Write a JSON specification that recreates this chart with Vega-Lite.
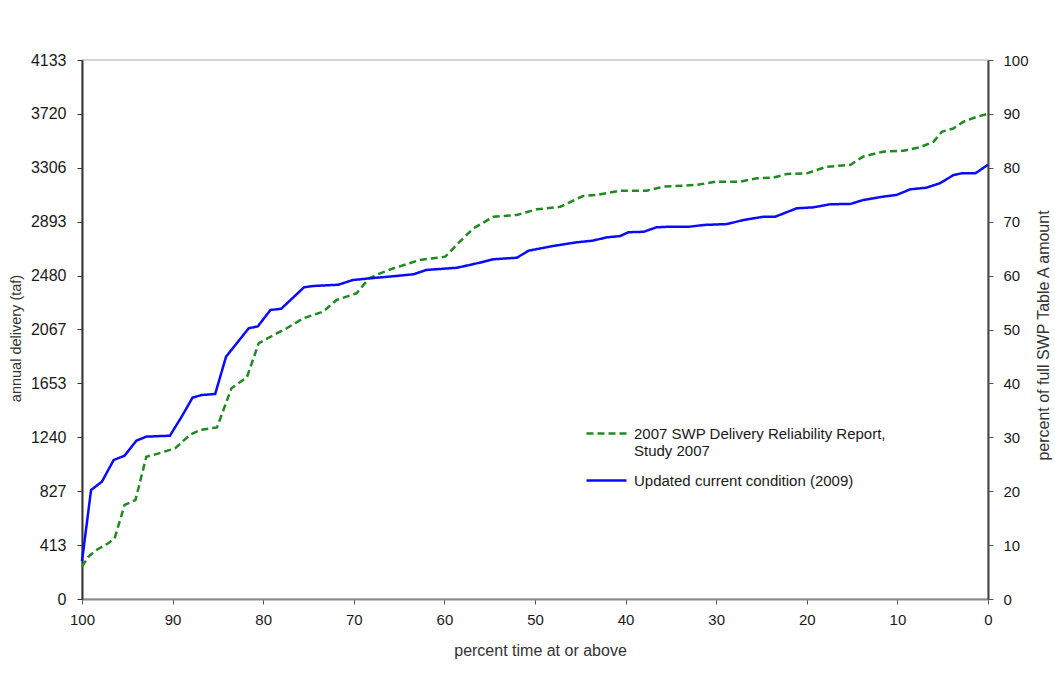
{
  "$schema": "https://vega.github.io/schema/vega-lite/v6.json",
  "width": 906,
  "height": 539,
  "autosize": {"type": "none"},
  "padding": {"left": 82, "top": 60, "right": 67, "bottom": 94},
  "background": "white",
  "config": {
    "view": {"stroke": "#c8c8c8", "strokeWidth": 1.5},
    "font": "Liberation Sans",
    "axis": {
      "grid": false,
      "labelFont": "Liberation Sans",
      "titleFont": "Liberation Sans",
      "labelColor": "#1a1a1a",
      "titleColor": "#333333",
      "titleFontWeight": "normal",
      "labelFontSize": 15,
      "titleFontSize": 15,
      "labelFlush": false,
      "labelOverlap": false
    }
  },
  "datasets": {
    "curves": [
      {"series": "2007 SWP Delivery Reliability Report, Study 2007", "pct": 100, "value": 248},
      {"series": "2007 SWP Delivery Reliability Report, Study 2007", "pct": 99.3, "value": 324},
      {"series": "2007 SWP Delivery Reliability Report, Study 2007", "pct": 98.4, "value": 376},
      {"series": "2007 SWP Delivery Reliability Report, Study 2007", "pct": 97.1, "value": 427},
      {"series": "2007 SWP Delivery Reliability Report, Study 2007", "pct": 96.4, "value": 465},
      {"series": "2007 SWP Delivery Reliability Report, Study 2007", "pct": 95.3, "value": 721},
      {"series": "2007 SWP Delivery Reliability Report, Study 2007", "pct": 94.1, "value": 759},
      {"series": "2007 SWP Delivery Reliability Report, Study 2007", "pct": 92.9, "value": 1091},
      {"series": "2007 SWP Delivery Reliability Report, Study 2007", "pct": 91.9, "value": 1109},
      {"series": "2007 SWP Delivery Reliability Report, Study 2007", "pct": 89.7, "value": 1156},
      {"series": "2007 SWP Delivery Reliability Report, Study 2007", "pct": 88.1, "value": 1258},
      {"series": "2007 SWP Delivery Reliability Report, Study 2007", "pct": 87.0, "value": 1296},
      {"series": "2007 SWP Delivery Reliability Report, Study 2007", "pct": 85.1, "value": 1316},
      {"series": "2007 SWP Delivery Reliability Report, Study 2007", "pct": 83.5, "value": 1616},
      {"series": "2007 SWP Delivery Reliability Report, Study 2007", "pct": 81.8, "value": 1700},
      {"series": "2007 SWP Delivery Reliability Report, Study 2007", "pct": 80.5, "value": 1961},
      {"series": "2007 SWP Delivery Reliability Report, Study 2007", "pct": 79.2, "value": 2011},
      {"series": "2007 SWP Delivery Reliability Report, Study 2007", "pct": 77.4, "value": 2076},
      {"series": "2007 SWP Delivery Reliability Report, Study 2007", "pct": 75.6, "value": 2152},
      {"series": "2007 SWP Delivery Reliability Report, Study 2007", "pct": 73.4, "value": 2203},
      {"series": "2007 SWP Delivery Reliability Report, Study 2007", "pct": 71.9, "value": 2293},
      {"series": "2007 SWP Delivery Reliability Report, Study 2007", "pct": 69.7, "value": 2344},
      {"series": "2007 SWP Delivery Reliability Report, Study 2007", "pct": 68.3, "value": 2460},
      {"series": "2007 SWP Delivery Reliability Report, Study 2007", "pct": 67.1, "value": 2497},
      {"series": "2007 SWP Delivery Reliability Report, Study 2007", "pct": 65.6, "value": 2536},
      {"series": "2007 SWP Delivery Reliability Report, Study 2007", "pct": 62.7, "value": 2600},
      {"series": "2007 SWP Delivery Reliability Report, Study 2007", "pct": 59.9, "value": 2625},
      {"series": "2007 SWP Delivery Reliability Report, Study 2007", "pct": 58.3, "value": 2740},
      {"series": "2007 SWP Delivery Reliability Report, Study 2007", "pct": 56.8, "value": 2842},
      {"series": "2007 SWP Delivery Reliability Report, Study 2007", "pct": 54.6, "value": 2931},
      {"series": "2007 SWP Delivery Reliability Report, Study 2007", "pct": 52.0, "value": 2945},
      {"series": "2007 SWP Delivery Reliability Report, Study 2007", "pct": 49.8, "value": 2988},
      {"series": "2007 SWP Delivery Reliability Report, Study 2007", "pct": 47.2, "value": 3008},
      {"series": "2007 SWP Delivery Reliability Report, Study 2007", "pct": 44.7, "value": 3090},
      {"series": "2007 SWP Delivery Reliability Report, Study 2007", "pct": 43.2, "value": 3098},
      {"series": "2007 SWP Delivery Reliability Report, Study 2007", "pct": 40.6, "value": 3131},
      {"series": "2007 SWP Delivery Reliability Report, Study 2007", "pct": 37.7, "value": 3131},
      {"series": "2007 SWP Delivery Reliability Report, Study 2007", "pct": 35.8, "value": 3162},
      {"series": "2007 SWP Delivery Reliability Report, Study 2007", "pct": 32.2, "value": 3175},
      {"series": "2007 SWP Delivery Reliability Report, Study 2007", "pct": 30.0, "value": 3200},
      {"series": "2007 SWP Delivery Reliability Report, Study 2007", "pct": 27.4, "value": 3200},
      {"series": "2007 SWP Delivery Reliability Report, Study 2007", "pct": 25.5, "value": 3226},
      {"series": "2007 SWP Delivery Reliability Report, Study 2007", "pct": 23.7, "value": 3231},
      {"series": "2007 SWP Delivery Reliability Report, Study 2007", "pct": 22.2, "value": 3259},
      {"series": "2007 SWP Delivery Reliability Report, Study 2007", "pct": 20.0, "value": 3264},
      {"series": "2007 SWP Delivery Reliability Report, Study 2007", "pct": 17.8, "value": 3315},
      {"series": "2007 SWP Delivery Reliability Report, Study 2007", "pct": 15.2, "value": 3328},
      {"series": "2007 SWP Delivery Reliability Report, Study 2007", "pct": 13.8, "value": 3392},
      {"series": "2007 SWP Delivery Reliability Report, Study 2007", "pct": 11.6, "value": 3430},
      {"series": "2007 SWP Delivery Reliability Report, Study 2007", "pct": 9.3, "value": 3438},
      {"series": "2007 SWP Delivery Reliability Report, Study 2007", "pct": 7.5, "value": 3464},
      {"series": "2007 SWP Delivery Reliability Report, Study 2007", "pct": 6.0, "value": 3507},
      {"series": "2007 SWP Delivery Reliability Report, Study 2007", "pct": 5.1, "value": 3583},
      {"series": "2007 SWP Delivery Reliability Report, Study 2007", "pct": 3.8, "value": 3609},
      {"series": "2007 SWP Delivery Reliability Report, Study 2007", "pct": 2.7, "value": 3660},
      {"series": "2007 SWP Delivery Reliability Report, Study 2007", "pct": 1.2, "value": 3698},
      {"series": "2007 SWP Delivery Reliability Report, Study 2007", "pct": 0, "value": 3720},
      {"series": "Updated current condition (2009)", "pct": 100, "value": 290},
      {"series": "Updated current condition (2009)", "pct": 99.0, "value": 836},
      {"series": "Updated current condition (2009)", "pct": 97.8, "value": 900},
      {"series": "Updated current condition (2009)", "pct": 96.5, "value": 1066},
      {"series": "Updated current condition (2009)", "pct": 95.3, "value": 1099},
      {"series": "Updated current condition (2009)", "pct": 94.0, "value": 1214},
      {"series": "Updated current condition (2009)", "pct": 92.9, "value": 1245},
      {"series": "Updated current condition (2009)", "pct": 90.3, "value": 1252},
      {"series": "Updated current condition (2009)", "pct": 89.0, "value": 1398},
      {"series": "Updated current condition (2009)", "pct": 87.8, "value": 1544},
      {"series": "Updated current condition (2009)", "pct": 86.8, "value": 1564},
      {"series": "Updated current condition (2009)", "pct": 85.3, "value": 1572},
      {"series": "Updated current condition (2009)", "pct": 84.1, "value": 1858},
      {"series": "Updated current condition (2009)", "pct": 81.6, "value": 2076},
      {"series": "Updated current condition (2009)", "pct": 80.6, "value": 2090},
      {"series": "Updated current condition (2009)", "pct": 79.2, "value": 2216},
      {"series": "Updated current condition (2009)", "pct": 78.0, "value": 2226},
      {"series": "Updated current condition (2009)", "pct": 75.5, "value": 2390},
      {"series": "Updated current condition (2009)", "pct": 74.5, "value": 2400},
      {"series": "Updated current condition (2009)", "pct": 71.7, "value": 2410},
      {"series": "Updated current condition (2009)", "pct": 70.1, "value": 2446},
      {"series": "Updated current condition (2009)", "pct": 68.2, "value": 2459},
      {"series": "Updated current condition (2009)", "pct": 65.3, "value": 2477},
      {"series": "Updated current condition (2009)", "pct": 63.4, "value": 2490},
      {"series": "Updated current condition (2009)", "pct": 62.0, "value": 2523},
      {"series": "Updated current condition (2009)", "pct": 58.6, "value": 2540},
      {"series": "Updated current condition (2009)", "pct": 56.4, "value": 2574},
      {"series": "Updated current condition (2009)", "pct": 54.6, "value": 2605},
      {"series": "Updated current condition (2009)", "pct": 52.0, "value": 2617},
      {"series": "Updated current condition (2009)", "pct": 50.7, "value": 2671},
      {"series": "Updated current condition (2009)", "pct": 48.0, "value": 2707},
      {"series": "Updated current condition (2009)", "pct": 45.4, "value": 2735},
      {"series": "Updated current condition (2009)", "pct": 43.6, "value": 2748},
      {"series": "Updated current condition (2009)", "pct": 42.1, "value": 2773},
      {"series": "Updated current condition (2009)", "pct": 40.6, "value": 2783},
      {"series": "Updated current condition (2009)", "pct": 39.7, "value": 2812},
      {"series": "Updated current condition (2009)", "pct": 38.0, "value": 2816},
      {"series": "Updated current condition (2009)", "pct": 36.6, "value": 2850},
      {"series": "Updated current condition (2009)", "pct": 35.1, "value": 2855},
      {"series": "Updated current condition (2009)", "pct": 32.9, "value": 2855},
      {"series": "Updated current condition (2009)", "pct": 31.4, "value": 2868},
      {"series": "Updated current condition (2009)", "pct": 28.8, "value": 2875},
      {"series": "Updated current condition (2009)", "pct": 27.0, "value": 2906},
      {"series": "Updated current condition (2009)", "pct": 24.8, "value": 2931},
      {"series": "Updated current condition (2009)", "pct": 23.5, "value": 2931},
      {"series": "Updated current condition (2009)", "pct": 21.1, "value": 2996},
      {"series": "Updated current condition (2009)", "pct": 19.3, "value": 3003},
      {"series": "Updated current condition (2009)", "pct": 17.4, "value": 3027},
      {"series": "Updated current condition (2009)", "pct": 15.2, "value": 3029},
      {"series": "Updated current condition (2009)", "pct": 13.8, "value": 3059},
      {"series": "Updated current condition (2009)", "pct": 11.6, "value": 3085},
      {"series": "Updated current condition (2009)", "pct": 10.1, "value": 3098},
      {"series": "Updated current condition (2009)", "pct": 8.6, "value": 3141},
      {"series": "Updated current condition (2009)", "pct": 6.8, "value": 3154},
      {"series": "Updated current condition (2009)", "pct": 5.3, "value": 3188},
      {"series": "Updated current condition (2009)", "pct": 3.8, "value": 3251},
      {"series": "Updated current condition (2009)", "pct": 2.9, "value": 3264},
      {"series": "Updated current condition (2009)", "pct": 1.4, "value": 3264},
      {"series": "Updated current condition (2009)", "pct": 0, "value": 3330}
    ],
    "pctaxis": [{"p": 0}, {"p": 100}]
  },
  "layer": [
    {
      "data": {"name": "curves"},
      "mark": {"type": "line", "strokeWidth": 2.5},
      "encoding": {
        "x": {
          "field": "pct",
          "type": "quantitative",
          "scale": {"domain": [0, 100], "reverse": true, "nice": false},
          "axis": {
            "values": [0, 10, 20, 30, 40, 50, 60, 70, 80, 90, 100],
            "format": "d",
            "title": "percent time at or above",
            "titleFontSize": 16,
            "domainColor": "#8a8a8a",
            "domainWidth": 2,
            "tickColor": "#555555",
            "tickSize": 5,
            "labelPadding": 8,
            "titleX": 458,
            "titleY": 51,
            "titleAlign": "center",
            "titleBaseline": "middle"
          }
        },
        "y": {
          "field": "value",
          "type": "quantitative",
          "scale": {"domain": [0, 4133], "nice": false},
          "axis": {
            "values": [0, 413, 827, 1240, 1653, 2067, 2480, 2893, 3306, 3720, 4133],
            "format": "d",
            "labelFontSize": 16,
            "title": "annual delivery (taf)",
            "titleFontSize": 14.5,
            "domainColor": "#333333",
            "domainWidth": 2,
            "tickColor": "#333333",
            "tickSize": 5,
            "labelPadding": 11,
            "titleAngle": 270,
            "titleX": -66,
            "titleY": 278,
            "titleAlign": "center",
            "titleBaseline": "middle"
          }
        },
        "color": {
          "field": "series",
          "type": "nominal",
          "scale": {
            "domain": ["2007 SWP Delivery Reliability Report, Study 2007", "Updated current condition (2009)"],
            "range": ["#1f8a1f", "#0a0aff"]
          },
          "legend": {
            "title": null,
            "orient": "none",
            "legendX": 503,
            "legendY": 352,
            "symbolType": "stroke",
            "symbolSize": 1600,
            "symbolStrokeWidth": 2.5,
            "labelFont": "Liberation Sans",
            "labelFontSize": 15,
            "labelColor": "#1a1a1a",
            "labelOffset": 6,
            "labelLimit": 400,
            "labelBaseline": "middle",
            "rowPadding": -5,
            "labelExpr": "datum.label == '2007 SWP Delivery Reliability Report, Study 2007' ? ['2007 SWP Delivery Reliability Report,', 'Study 2007'] : datum.label"
          }
        },
        "strokeDash": {
          "field": "series",
          "type": "nominal",
          "scale": {
            "domain": ["2007 SWP Delivery Reliability Report, Study 2007", "Updated current condition (2009)"],
            "range": [[7, 4], [1, 0]]
          },
          "legend": {
            "title": null,
            "orient": "none",
            "legendX": 503,
            "legendY": 352,
            "symbolType": "stroke",
            "symbolSize": 1600,
            "symbolStrokeWidth": 2.5,
            "labelFont": "Liberation Sans",
            "labelFontSize": 15,
            "labelColor": "#1a1a1a",
            "labelOffset": 6,
            "labelLimit": 400,
            "labelBaseline": "middle",
            "rowPadding": -5,
            "labelExpr": "datum.label == '2007 SWP Delivery Reliability Report, Study 2007' ? ['2007 SWP Delivery Reliability Report,', 'Study 2007'] : datum.label"
          }
        }
      }
    },
    {
      "data": {"name": "pctaxis"},
      "mark": {"type": "rule", "opacity": 0},
      "encoding": {
        "y": {
          "field": "p",
          "type": "quantitative",
          "scale": {"domain": [0, 100], "nice": false},
          "axis": {
            "orient": "right",
            "values": [0, 10, 20, 30, 40, 50, 60, 70, 80, 90, 100],
            "format": "d",
            "title": "percent of full SWP Table A amount",
            "titleFontSize": 16,
            "domainColor": "#444444",
            "domainWidth": 2,
            "tickColor": "#555555",
            "tickSize": 5,
            "labelPadding": 10,
            "titleAngle": 270,
            "titleX": 55,
            "titleY": 275,
            "titleAlign": "center",
            "titleBaseline": "middle"
          }
        }
      }
    }
  ],
  "resolve": {"scale": {"y": "independent"}}
}
